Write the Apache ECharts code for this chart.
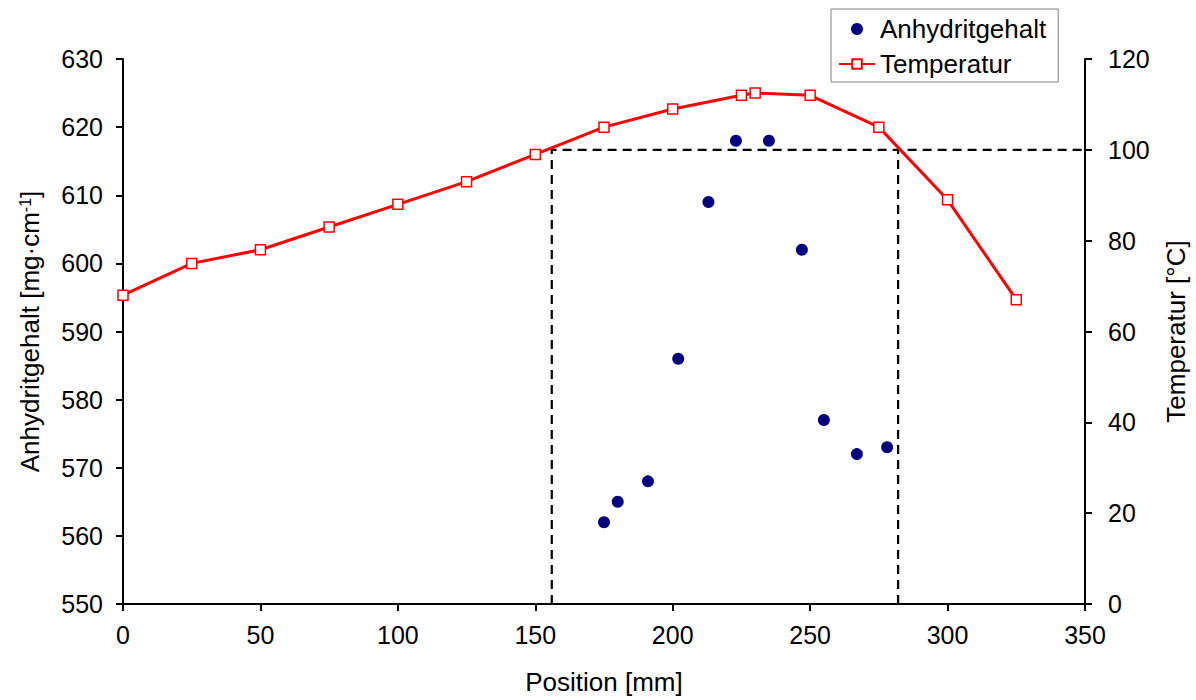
<!DOCTYPE html>
<html>
<head>
<meta charset="utf-8">
<script src="https://cdn.jsdelivr.net/npm/echarts@6/dist/echarts.min.js"></script>
<style>
html,body{margin:0;padding:0;background:#fff;}
#chart{width:1196px;height:700px;}
</style>
</head>
<body>
<div id="chart"></div>
<script>
// ---- data ----
const tempPositions = [0, 25, 50, 75, 100, 125, 150, 175, 200, 225, 230, 250, 275, 300, 325];
const temperatur = [68, 75, 78, 83, 88, 93, 99, 105, 109, 112, 112.5, 112, 105, 89, 67];
const anhPositions = [175, 180, 191, 202, 213, 223, 235, 247, 255, 267, 278];
const anhydritgehalt = [562, 565, 568, 586, 609, 618, 618, 602, 577, 572, 573];
const zoneBounds = [156, 282];      // vertical dashed lines [mm]
const tempThreshold = 100;          // horizontal dashed line [°C]
const xRange = [0, 350];
const leftRange = [550, 630];
const rightRange = [0, 120];

const FONT = '"Liberation Sans", Arial, sans-serif';

const anhData = anhPositions.map((x, i) => [x, anhydritgehalt[i]]);
const tempData = tempPositions.map((x, i) => [x, temperatur[i]]);
const dashLeft = [[zoneBounds[0], rightRange[0]], [zoneBounds[0], tempThreshold], [xRange[1], tempThreshold]];
const dashRight = [[zoneBounds[1], rightRange[0]], [zoneBounds[1], tempThreshold]];

const axisCommon = {
  axisLine: { show: true, onZero: false, lineStyle: { color: '#000', width: 2 } },
  axisTick: { show: true, inside: false, length: 7, lineStyle: { color: '#000', width: 2 } },
  axisLabel: { color: '#000', fontSize: 25, fontFamily: FONT },
  splitLine: { show: false },
  nameTextStyle: { color: '#000', fontSize: 26, fontFamily: FONT }
};

const dashStyle = { color: '#000', width: 2.2, type: [9, 6] };

const chart = echarts.init(document.getElementById('chart'), null, { renderer: 'svg' });
chart.setOption({
  backgroundColor: '#fff',
  animation: false,
  grid: { left: 123, right: 111, top: 59, bottom: 96, containLabel: false, outerBoundsMode: 'none' },
  legend: {
    orient: 'vertical',
    left: 831,
    top: 9,
    padding: [7, 12, 5, 7],
    itemGap: 9,
    itemWidth: 36,
    itemHeight: 12,
    backgroundColor: '#fff',
    borderColor: '#808080',
    borderWidth: 1,
    borderRadius: 0,
    textStyle: { color: '#000', fontSize: 26, fontFamily: FONT, lineHeight: 26 },
    data: ['Anhydritgehalt', 'Temperatur']
  },
  xAxis: Object.assign({}, axisCommon, {
    type: 'value',
    min: xRange[0], max: xRange[1], interval: 50,
    name: 'Position [mm]',
    nameLocation: 'middle',
    nameGap: 65,
    axisLabel: Object.assign({}, axisCommon.axisLabel, { margin: 18 })
  }),
  yAxis: [
    Object.assign({}, axisCommon, {
      type: 'value',
      position: 'left',
      min: leftRange[0], max: leftRange[1], interval: 10,
      name: 'Anhydritgehalt [mg·cm{sup|-1}]',
      nameLocation: 'middle',
      nameRotate: 90,
      nameGap: 80,
      nameTextStyle: Object.assign({}, axisCommon.nameTextStyle, {
        rich: { sup: { fontSize: 16, fontFamily: FONT, color: '#000', verticalAlign: 'top', lineHeight: 16 } }
      }),
      axisLabel: Object.assign({}, axisCommon.axisLabel, { margin: 20 })
    }),
    Object.assign({}, axisCommon, {
      type: 'value',
      position: 'right',
      min: rightRange[0], max: rightRange[1], interval: 20,
      name: 'Temperatur [°C]',
      nameLocation: 'middle',
      nameRotate: 90,
      nameGap: 78,
      axisLabel: Object.assign({}, axisCommon.axisLabel, { margin: 23 })
    })
  ],
  series: [
    {
      name: 'zoneLeft', type: 'line', yAxisIndex: 1, data: dashLeft,
      symbol: 'none', silent: true, lineStyle: dashStyle, z: 1
    },
    {
      name: 'zoneRight', type: 'line', yAxisIndex: 1, data: dashRight,
      symbol: 'none', silent: true, lineStyle: dashStyle, z: 1
    },
    {
      name: 'Temperatur', type: 'line', yAxisIndex: 1, data: tempData,
      symbol: 'rect', symbolSize: 10,
      lineStyle: { color: '#ff0000', width: 3 },
      itemStyle: { color: '#ffffff', borderColor: '#ff0000', borderWidth: 1.5 },
      z: 3
    },
    {
      name: 'Anhydritgehalt', type: 'scatter', yAxisIndex: 0, data: anhData,
      symbol: 'circle', symbolSize: 12,
      itemStyle: { color: '#000080', opacity: 1 },
      z: 4
    }
  ]
});
</script>
</body>
</html>
